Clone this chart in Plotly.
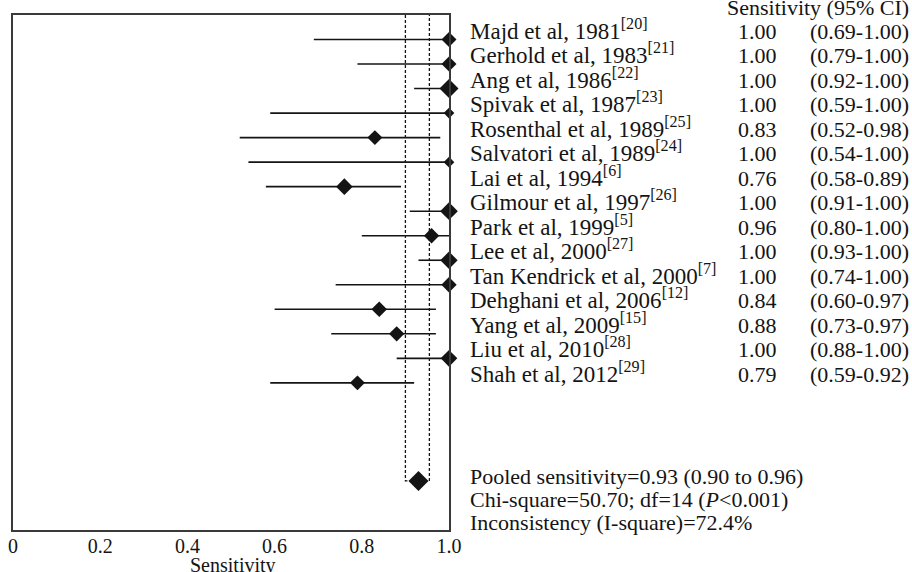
import plotly.graph_objects as go

studies = ["Majd et al, 1981", "Gerhold et al, 1983", "Ang et al, 1986", "Spivak et al, 1987",
           "Rosenthal et al, 1989", "Salvatori et al, 1989", "Lai et al, 1994", "Gilmour et al, 1997",
           "Park et al, 1999", "Lee et al, 2000", "Tan Kendrick et al, 2000", "Dehghani et al, 2006",
           "Yang et al, 2009", "Liu et al, 2010", "Shah et al, 2012"]
refs = ["20", "21", "22", "23", "25", "24", "6", "26", "5", "27", "7", "12", "15", "28", "29"]
sens = [1.00, 1.00, 1.00, 1.00, 0.83, 1.00, 0.76, 1.00, 0.96, 1.00, 1.00, 0.84, 0.88, 1.00, 0.79]
ci_low = [0.69, 0.79, 0.92, 0.59, 0.52, 0.54, 0.58, 0.91, 0.80, 0.93, 0.74, 0.60, 0.73, 0.88, 0.59]
ci_high = [1.00, 1.00, 1.00, 1.00, 0.98, 1.00, 0.89, 1.00, 1.00, 1.00, 1.00, 0.97, 0.97, 1.00, 0.92]
weights = [11.5, 11.5, 14.6, 8.2, 11.5, 8.2, 12.8, 13.6, 11.8, 13.3, 11.8, 12, 11.8, 12.8, 11.5]

pooled = 0.93
pooled_low = 0.90
pooled_high = 0.955
pooled_weight = 15.4
pooled_row = 18
tick_vals = [0, 0.2, 0.4, 0.6, 0.8, 1.0]
tick_text = ["0", "0.2", "0.4", "0.6", "0.8", "1.0"]
x_title = "Sensitivity"
stats_lines = ["Pooled sensitivity=0.93 (0.90 to 0.96)",
               "Chi-square=50.70; df=14 (<i>P</i><0.001)",
               "Inconsistency (I-square)=72.4%"]

FONT = "Liberation Serif, Times New Roman, serif"
INK = "#141414"

rows = list(range(len(studies)))
fig = go.Figure()

# dashed pooled CI box
fig.add_trace(go.Scatter(
    x=[pooled_low, pooled_low, pooled_high, pooled_high],
    y=[-1, pooled_row, pooled_row, -1],
    mode="lines", line=dict(color=INK, width=1.3, dash="3px,2px"),
    hoverinfo="skip", showlegend=False, cliponaxis=False))

# CI lines
for r, lo, hi in zip(rows, ci_low, ci_high):
    fig.add_trace(go.Scatter(x=[lo, hi], y=[r, r], mode="lines",
                             line=dict(color=INK, width=1.6),
                             hoverinfo="skip", showlegend=False, cliponaxis=False))

# study diamonds
fig.add_trace(go.Scatter(x=sens, y=rows, mode="markers",
                         marker=dict(symbol="diamond", size=weights, color=INK, opacity=1,
                                     line=dict(width=0)),
                         showlegend=False, cliponaxis=False))
# pooled diamond
fig.add_trace(go.Scatter(x=[pooled], y=[pooled_row], mode="markers",
                         marker=dict(symbol="diamond", size=pooled_weight, color=INK, opacity=1,
                                     line=dict(width=0)),
                         showlegend=False, cliponaxis=False))

ann = []
YS = -6
X_NAME, X_VAL, X_CI = 1.048, 1.7514, 2.054
ann.append(dict(x=X_CI, y=-1, xref="paper", yref="y", text="Sensitivity (95% CI)",
                xanchor="right", yanchor="bottom", showarrow=False, yshift=YS - 1.5,
                xshift=2, font=dict(size=22)))
for r, name, ref, s, lo, hi in zip(rows, studies, refs, sens, ci_low, ci_high):
    ann.append(dict(x=X_NAME, y=r, xref="paper", yref="y", text=f"{name}<sup>[{ref}]</sup>",
                    xanchor="left", yanchor="bottom", showarrow=False, yshift=YS,
                    xshift=-2, font=dict(size=23)))
    ann.append(dict(x=X_VAL, y=r, xref="paper", yref="y", text=f"{s:.2f}",
                    xanchor="right", yanchor="bottom", showarrow=False, yshift=YS, xshift=2))
    ann.append(dict(x=X_CI, y=r, xref="paper", yref="y", text=f"({lo:.2f}-{hi:.2f})",
                    xanchor="right", yanchor="bottom", showarrow=False, yshift=YS, xshift=2))
for i, line in enumerate(stats_lines):
    ann.append(dict(x=X_NAME, y=pooled_row, xref="paper", yref="y", text=line,
                    xanchor="left", yanchor="bottom", showarrow=False, xshift=-2,
                    yshift=YS - 4.5 - i * 23))
# x-axis title (cut by the bottom edge as in the original)
ann.append(dict(x=0.505, y=0, xref="paper", yref="paper", text=x_title,
                xanchor="center", yanchor="top", showarrow=False, yshift=-22,
                font=dict(size=20)))

fig.update_layout(
    width=912, height=572,
    margin=dict(l=12.5, r=463, t=15, b=42),
    paper_bgcolor="white", plot_bgcolor="white",
    font=dict(family=FONT, size=22, color=INK),
    annotations=ann,
    xaxis=dict(range=[0, 1], tickvals=tick_vals, ticktext=tick_text, ticks="",
               automargin=False,
               showgrid=False, zeroline=False, showline=True, mirror=True,
               linecolor="#3a3a3a", linewidth=1.5, ticklabelstandoff=-3,
               tickfont=dict(size=20)),
    yaxis=dict(range=[20, -1], showticklabels=False, ticks="", showgrid=False,
               automargin=False,
               zeroline=False, showline=True, mirror=True,
               linecolor="#3a3a3a", linewidth=1.5),
)

fig.write_html("out.html", config={"displayModeBar": False},
               post_script="document.body.style.margin='0';document.body.style.overflow='hidden';")
